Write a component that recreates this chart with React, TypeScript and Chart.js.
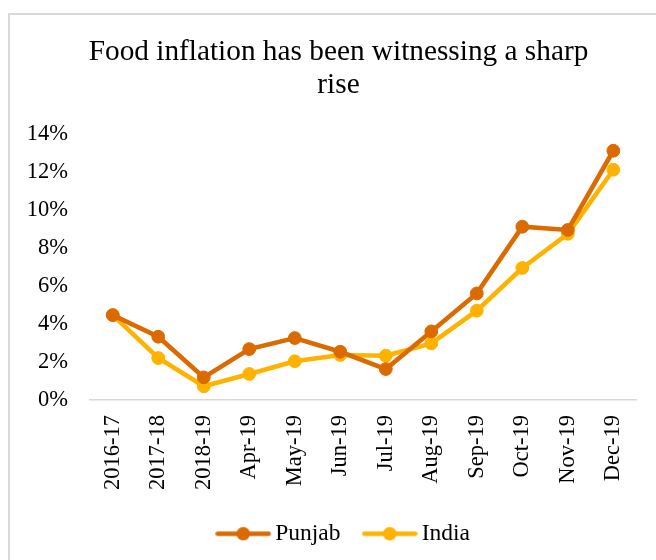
import React, { useEffect, useRef } from 'react';
import { Chart, registerables } from 'chart.js';

Chart.register(...registerables);

const categories = ['2016-17', '2017-18', '2018-19', 'Apr-19', 'May-19', 'Jun-19', 'Jul-19', 'Aug-19', 'Sep-19', 'Oct-19', 'Nov-19', 'Dec-19'];
const punjab = [4.47, 3.33, 1.19, 2.68, 3.26, 2.54, 1.63, 3.61, 5.61, 9.12, 8.95, 13.12];
const india = [4.47, 2.21, 0.72, 1.37, 2.04, 2.37, 2.33, 2.98, 4.7, 6.95, 8.75, 12.12];
const seriesNames = ['Punjab', 'India'];
const seriesColors = ['#DB6A00', '#FFB300'];
const titleLines = ['Food inflation has been witnessing a sharp', 'rise'];
const yMin = 0;
const yMax = 14;
const yStep = 2;

const FONT = "'Liberation Serif', 'Times New Roman', serif";

function legendIcon(color: string) {
  const c = document.createElement('canvas');
  c.width = 56;
  c.height = 15;
  const ctx = c.getContext('2d')!;
  ctx.strokeStyle = color;
  ctx.lineWidth = 4.5;
  ctx.lineCap = 'round';
  ctx.beginPath();
  ctx.moveTo(2.5, 7.5);
  ctx.lineTo(53.5, 7.5);
  ctx.stroke();
  ctx.fillStyle = color;
  ctx.beginPath();
  ctx.arc(28, 7.5, 6.8, 0, Math.PI * 2);
  ctx.fill();
  return c;
}

const legendShift = {
  id: 'legendShift',
  afterLayout(chart: any) {
    const lg = chart.legend;
    if (lg) {
      lg.left += 8;
      lg.right += 8;
    }
  },
};

export default function App() {
  const ref = useRef<HTMLCanvasElement>(null);

  useEffect(() => {
    if (!ref.current) return;
    const icons = seriesColors.map(legendIcon);
    const chart = new Chart(ref.current, {
      type: 'line',
      data: {
        labels: categories,
        datasets: [punjab, india].map((d, i) => ({
          label: seriesNames[i],
          data: d,
          borderColor: seriesColors[i],
          backgroundColor: seriesColors[i],
          borderWidth: 4.6,
          pointRadius: 6.4,
          pointBorderWidth: 1,
          pointBackgroundColor: seriesColors[i],
          pointBorderColor: seriesColors[i],
          tension: 0,
          fill: false,
          yAxisID: 'y',
        })),
      },
      plugins: [legendShift],
      options: {
        animation: false,
        responsive: false,
        maintainAspectRatio: false,
        layout: { padding: { top: 0, left: 27, right: 6, bottom: 4.5 } },
        font: { family: FONT },
        plugins: {
          title: {
            display: true,
            text: titleLines,
            color: '#000',
            font: { family: FONT, size: 29.3, weight: 'normal', lineHeight: 1.113 },
            padding: { top: 36, bottom: 32.8 },
          },
          legend: {
            display: true,
            position: 'bottom',
            labels: {
              color: '#000',
              font: { family: FONT, size: 23.5 },
              usePointStyle: true,
              pointStyleWidth: 40.5,
              padding: 29,
              generateLabels: (ch: any) => {
                const items = (Chart.defaults.plugins.legend.labels as any).generateLabels(ch);
                return items.map((it: any, i: number) => ({ ...it, pointStyle: icons[i], fontColor: '#000' }));
              },
            },
          },
          tooltip: { enabled: false },
        },
        scales: {
          x: {
            type: 'category',
            offset: true,
            grid: { display: false, drawTicks: false },
            border: { display: true, color: '#d9d9d9', width: 1.5 },
            ticks: {
              color: '#000',
              font: { family: FONT, size: 22.5 },
              minRotation: 90,
              maxRotation: 90,
              autoSkip: false,
              padding: 15,
            },
            afterFit: (s: any) => {
              s.height = 93;
            },
          },
          y: {
            min: yMin,
            max: yMax,
            grid: { display: false, drawTicks: false },
            border: { display: false },
            ticks: {
              stepSize: yStep,
              color: '#000',
              font: { family: FONT, size: 22.5 },
              padding: 22,
              callback: (v: any) => `${v}%`,
            },
            afterFit: (s: any) => {
              s.width = 63;
            },
          },
          yR: {
            type: 'linear',
            position: 'right',
            display: true,
            min: yMin,
            max: yMax,
            grid: { display: false, drawTicks: false },
            border: { display: false },
            ticks: { display: false },
            afterFit: (s: any) => {
              s.width = 10;
            },
          },
        },
      } as any,
    });
    return () => chart.destroy();
  }, []);

  return (
    <div style={{ position: 'fixed', left: 0, top: 0, width: 656, height: 560, overflow: 'hidden', background: '#fff' }}>
      <div
        style={{
          position: 'absolute',
          left: 8,
          top: 13,
          width: 700,
          height: 600,
          border: '2px solid #d9d9d9',
          boxSizing: 'border-box',
        }}
      />
      <canvas ref={ref} width={656} height={560} style={{ position: 'absolute', left: 0, top: 0, width: 656, height: 560 }} />
    </div>
  );
}
